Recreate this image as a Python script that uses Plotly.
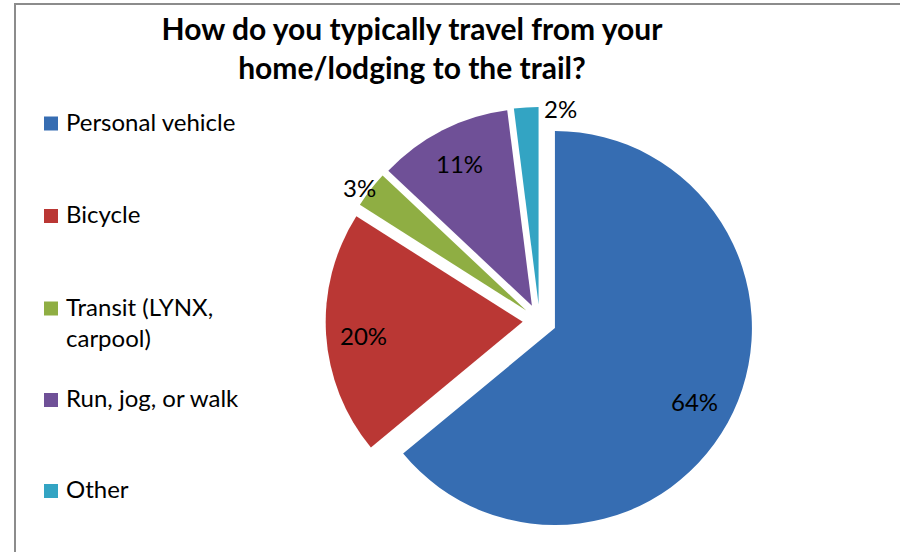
import math
import textwrap
import plotly.graph_objects as go

# Survey responses: how people get from home/lodging to the trail
categories = ["Personal vehicle", "Bicycle", "Transit (LYNX, carpool)", "Run, jog, or walk", "Other"]
shares = [64, 20, 3, 11, 2]  # percent of respondents

colors = ["#366db2", "#ba3734", "#8fae43", "#6f5097", "#33a4c3"]

W, H = 900, 552
FONT = "Lato"

# Pie geometry (pixels)
PIE_CX, PIE_CY = 539.6, 320.8
PIE_R = 197.0
PULL = 0.086

# Label placement: radial fraction of radius and angular nudge (deg) from slice middle
label_radius = [0.80, 0.81, 1.05, 0.81, 1.0]
label_turn = [2.7, -1.3, -1.4, 0.0, 10.0]

# Legend row centres (pixels from top)
legend_rows = [123.5, 216.0, 308.5, 400.0, 491.0]


def px(x):
    return x / W


def py(y):
    return 1 - y / H


half = PIE_R * (1 + PULL)
fig = go.Figure(
    go.Pie(
        labels=categories,
        values=shares,
        sort=False,
        direction="clockwise",
        rotation=0,
        pull=[PULL] * len(shares),
        marker=dict(colors=colors, line=dict(width=0)),
        textinfo="none",
        hoverinfo="label+percent",
        showlegend=False,
        domain=dict(x=[px(PIE_CX - half), px(PIE_CX + half)],
                    y=[py(PIE_CY + half), py(PIE_CY - half)]),
    )
)

annotations = []
total = float(sum(shares))
start = 0.0
for i, v in enumerate(shares):
    span = 360.0 * v / total
    mid = start + span / 2
    start += span
    # centre of the pulled-out slice
    cx = PIE_CX + PULL * PIE_R * math.sin(math.radians(mid))
    cy = PIE_CY - PULL * PIE_R * math.cos(math.radians(mid))
    a = math.radians(mid + label_turn[i])
    lx = cx + label_radius[i] * PIE_R * math.sin(a)
    ly = cy - label_radius[i] * PIE_R * math.cos(a)
    annotations.append(dict(
        x=px(lx), y=py(ly), xref="paper", yref="paper",
        text=f"{round(100 * v / total)}%", showarrow=False,
        xanchor="center", yanchor="middle",
        font=dict(family=FONT, size=24, color="#000000"),
    ))

# Legend drawn as swatches and labels on the left
shapes = []
SW = 14
for name, col, yc in zip(categories, colors, legend_rows):
    shapes.append(dict(
        type="rect", xref="paper", yref="paper",
        x0=px(44), x1=px(44 + SW), y0=py(yc + SW / 2), y1=py(yc - SW / 2),
        fillcolor=col, line=dict(width=0),
    ))
    lines = textwrap.wrap(name, 17)
    annotations.append(dict(
        x=px(64), y=py(yc - 19), xref="paper", yref="paper",
        text="<br>".join(lines), showarrow=False, align="left",
        xanchor="left", yanchor="top",
        font=dict(family=FONT, size=24, color="#000000"),
    ))

# Chart frame
shapes.append(dict(
    type="rect", xref="paper", yref="paper",
    x0=px(15), x1=px(W + 10), y0=py(H + 10), y1=py(4),
    line=dict(color="#8c8c8c", width=2), fillcolor="rgba(0,0,0,0)", layer="below",
))

fig.update_layout(
    width=W, height=H,
    margin=dict(l=0, r=0, t=0, b=0),
    paper_bgcolor="#ffffff",
    plot_bgcolor="#ffffff",
    title=dict(
        text="How do you typically travel from your<br>home/lodging to the trail?",
        x=px(412), y=py(40), xref="paper", yref="paper",
        xanchor="center", yanchor="middle",
        font=dict(family=FONT, size=30, color="#000000", weight="bold"),
    ),
    annotations=annotations,
    shapes=shapes,
)

fig.write_html("out.html")
